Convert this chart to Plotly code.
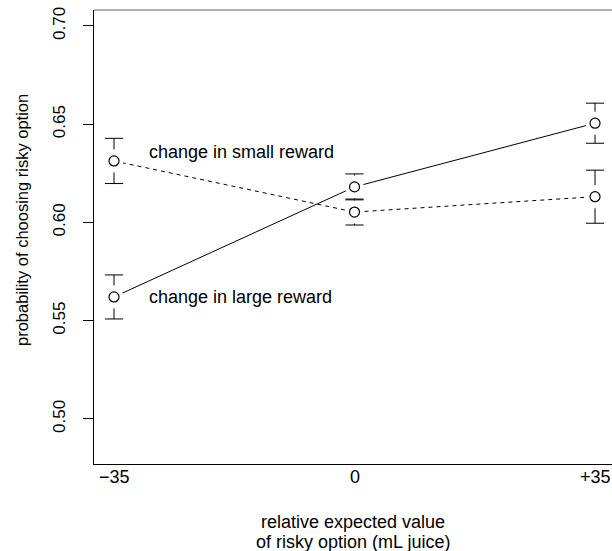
import plotly.graph_objects as go

# ---- data ----
x_vals = [-35, 0, 35]
x_labels = ["\u221235", "0", "+35"]
large_y = [0.5621, 0.6181, 0.6505]     # change in large reward (solid)
large_err = [0.0112, 0.0066, 0.0102]
small_y = [0.6313, 0.6053, 0.6131]     # change in small reward (dashed)
small_err = [0.0115, 0.0066, 0.0135]
y_ticks = [0.50, 0.55, 0.60, 0.65, 0.70]

# ---- layout constants ----
W, H = 612, 551
ML, MR, MT, MB = 94, 0, 10, 87
XR = [-37.91, 37.47]
YR = [0.4771, 0.7081]
FONT = "Liberation Sans, Arial, Helvetica, sans-serif"
px_per_y = (H - MT - MB) / (YR[1] - YR[0])
GAP = 11.5 / px_per_y   # gap between circle centre and error bar start

fig = go.Figure()

# connecting lines
fig.add_trace(go.Scatter(x=x_vals, y=large_y, mode="lines",
                         line=dict(color="black", width=1), hoverinfo="skip"))
fig.add_trace(go.Scatter(x=x_vals, y=small_y, mode="lines",
                         line=dict(color="black", width=1, dash="4px,4px"), hoverinfo="skip"))

# white disks producing the gaps of the lines around the points
fig.add_trace(go.Scatter(x=x_vals + x_vals, y=large_y + small_y, mode="markers",
                         marker=dict(symbol="circle", size=19, color="white", line=dict(width=0)),
                         hoverinfo="skip"))

# error bars (split, with gap around the point)
sx, sy, cx, cy = [], [], [], []
for ys, es in ((large_y, large_err), (small_y, small_err)):
    for x, y, e in zip(x_vals, ys, es):
        if e > GAP:
            sx += [x, x, None, x, x, None]
            sy += [y + GAP, y + e, None, y - GAP, y - e, None]
        cx += [x, x]
        cy += [y + e, y - e]
fig.add_trace(go.Scatter(x=sx, y=sy, mode="lines", line=dict(color="black", width=1),
                         hoverinfo="skip"))
fig.add_trace(go.Scatter(x=cx, y=cy, mode="markers",
                         marker=dict(symbol="line-ew", size=13, line=dict(color="black", width=1)),
                         hoverinfo="skip"))

# open circles
fig.add_trace(go.Scatter(x=x_vals + x_vals, y=large_y + small_y, mode="markers",
                         marker=dict(symbol="circle", size=10, color="white",
                                     line=dict(color="black", width=1.2)),
                         hoverinfo="skip"))

annotations = [
    dict(text="change in small reward", x=-30.2, y=0.6359, xref="x", yref="y",
         xanchor="left", yanchor="middle", showarrow=False, font=dict(size=18)),
    dict(text="change in large reward", x=-30.2, y=large_y[0], xref="x", yref="y",
         xanchor="left", yanchor="middle", showarrow=False, font=dict(size=18)),
    dict(text="relative expected value", x=0.5, y=0, xref="paper", yref="paper",
         xanchor="center", yanchor="middle", yshift=-58, showarrow=False, font=dict(size=18)),
    dict(text="of risky option (mL juice)", x=0.5, y=0, xref="paper", yref="paper",
         xanchor="center", yanchor="middle", yshift=-78, showarrow=False, font=dict(size=18)),
    dict(text="probability of choosing risky option", x=0, y=(H - MB - 220) / (H - MT - MB),
         xref="paper", yref="paper", xanchor="center", yanchor="middle", xshift=-72,
         textangle=-90, showarrow=False, font=dict(size=16.5)),
]
# x tick labels as annotations (placed closer to the axis than plotly allows)
for xv, lab in zip(x_vals, x_labels):
    annotations.append(dict(text=lab, x=xv, y=0, xref="x", yref="paper", xanchor="center",
                            yanchor="middle", yshift=-13, showarrow=False, font=dict(size=18)))

fig.update_layout(
    width=W, height=H,
    margin=dict(l=ML, r=MR, t=MT, b=MB),
    paper_bgcolor="white", plot_bgcolor="white",
    showlegend=False,
    font=dict(family=FONT, size=18, color="black"),
    xaxis=dict(range=XR, tickvals=x_vals, showticklabels=False, showgrid=False, zeroline=False,
               showline=True, linecolor="black", linewidth=1, ticks=""),
    yaxis=dict(range=YR, tickvals=y_ticks, tickformat=".2f", showgrid=False, zeroline=False,
               showline=True, linecolor="black", linewidth=1, ticks="outside", ticklen=10,
               tickcolor="black", tickangle=-90, tickfont=dict(size=17), ticklabelstandoff=11),
    shapes=[dict(type="line", xref="paper", yref="paper", x0=0, x1=1, y0=1, y1=1,
                 line=dict(color="#666666", width=1))],
    annotations=annotations,
)

fig.write_html("out.html", config={"displayModeBar": False},
               post_script="document.body.style.margin='0';")
